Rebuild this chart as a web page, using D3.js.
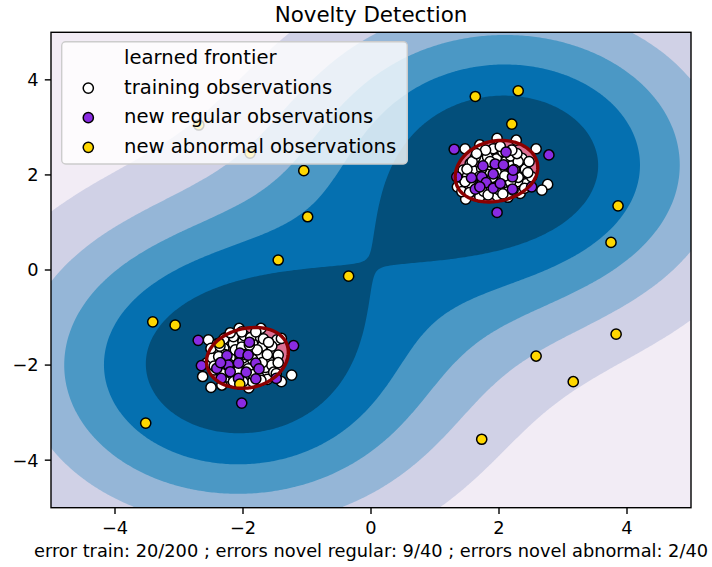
<!DOCTYPE html>
<html><head><meta charset="utf-8">
<script src="https://cdn.jsdelivr.net/npm/d3@7"></script>
<style>body{margin:0;background:#fff}svg{display:block}text{font-family:"DejaVu Sans",sans-serif;fill:#000}</style>
</head><body><svg id="chart" width="712" height="567"></svg>
<script>
// ---------------- data ----------------
const trainUpper = [
 [1.97,2.77],[2.27,2.73],[1.47,2.55],[1.70,2.63],[2.58,2.55],[2.38,2.24],[2.76,1.80],[2.67,1.68],[1.48,1.49],[2.14,1.53],
 [1.97,1.56],[1.35,1.75],[2.43,1.82],[1.70,2.42],[1.86,2.47],[2.28,2.42],[2.35,2.03],[1.44,2.10],[1.55,2.24],[1.70,1.54],
 [2.33,1.61],[1.42,1.65],[2.51,1.96],
 [1.60,2.08],[1.66,1.90],[1.76,2.30],[1.85,2.14],[1.96,2.34],[2.05,2.06],[2.11,2.29],[2.20,2.19],[2.29,1.86],[2.14,1.76],
 [2.01,1.68],[1.85,1.81],[1.76,1.66],[1.57,1.81],[2.41,2.12],[1.51,1.98],[1.63,2.37],[2.36,2.35],[2.00,1.91],[1.81,2.01],
 [2.25,2.01],[1.91,2.55],[2.06,2.49],[1.47,1.86],[2.45,2.05],[2.30,1.95],[1.82,2.38],[2.18,2.40],[1.93,2.22],[2.08,1.84],
 [1.73,2.13],[2.30,2.28],[1.68,1.75],[2.22,1.68],[1.88,1.70],[2.47,2.28],[1.58,2.28],[2.02,2.60],[1.79,2.52],[2.02,2.15],
 [1.90,1.95],[2.16,1.98],[1.70,1.97],[2.40,1.72],[1.54,1.63],[2.06,1.60],[1.83,1.58],[2.28,2.45],[1.50,2.12],[2.20,2.52],
 [1.65,2.45],[2.18,1.85],[1.96,2.05],[1.86,2.28],[2.24,2.11],[1.74,1.85],[2.09,1.98]
];
const trainLower = [
 [-2.54,-1.47],[-2.27,-1.42],[-2.06,-1.23],[-1.72,-1.23],[-1.79,-1.39],[-1.47,-1.47],[-1.40,-1.44],[-1.58,-1.74],[-1.45,-1.79],
 [-2.63,-2.24],[-2.50,-2.47],[-2.33,-2.42],[-1.91,-2.48],[-1.40,-2.35],[-1.24,-2.21],[-2.41,-1.75],[-1.63,-2.17],[-2.57,-1.96],
 [-2.30,-1.65],[-2.15,-1.55],[-2.00,-1.50],[-1.85,-1.55],[-1.70,-1.60],[-1.60,-1.90],[-1.75,-1.80],[-1.90,-1.70],[-2.05,-1.75],
 [-2.20,-1.85],[-2.35,-1.95],[-2.25,-2.10],[-2.10,-2.00],[-1.95,-1.95],[-1.80,-2.05],[-1.65,-2.05],[-1.75,-2.25],[-1.95,-2.20],
 [-2.10,-2.30],[-2.25,-2.25],[-2.45,-2.10],[-2.40,-1.55],[-1.55,-1.60],[-1.98,-1.38],[-1.62,-2.30],[-1.85,-2.35],[-2.00,-2.35],
 [-2.15,-1.40],[-1.88,-1.42],[-1.55,-2.00],[-2.48,-1.85],[-2.30,-1.45],[-1.68,-1.45],[-2.00,-1.85],[-1.85,-1.88],[-2.12,-1.68],
 [-2.28,-1.78],[-1.70,-1.95],[-1.92,-2.08],[-2.18,-2.18],[-2.33,-2.18],[-1.52,-2.15],[-2.50,-1.65],[-1.78,-1.68],[-2.02,-1.62],
 [-2.22,-1.98],[-1.62,-1.78],[-2.08,-2.12],[-1.90,-1.58],[-2.38,-1.82],[-1.72,-2.32],[-2.45,-2.02],[-1.45,-1.95],[-2.02,-1.30],
 [-1.80,-1.30],[-2.20,-1.32],[-1.48,-2.18],[-2.15,-2.35],[-1.60,-1.52],[-2.36,-1.60],[-1.96,-1.78],[-1.84,-2.20]
];
const regularUpper = [
 [1.30,2.54],[2.11,2.48],[2.78,2.42],[1.75,2.19],[1.94,2.23],[2.07,2.21],[1.34,1.96],[1.57,1.94],[1.73,1.96],[1.91,2.02],
 [2.21,1.96],[1.80,1.84],[1.63,1.70],[1.91,1.72],[2.21,1.70],[2.51,1.75],[1.97,1.21],[2.22,2.10],[1.70,1.75],[2.02,1.82]
];
const regularLower = [
 [-2.70,-1.48],[-1.21,-1.59],[-1.90,-1.52],[-2.25,-1.80],[-2.05,-1.75],[-1.92,-1.79],[-2.65,-2.01],[-2.41,-2.07],[-2.23,-2.00],[-2.07,-1.96],
 [-1.80,-1.96],[-2.20,-2.14],[-2.34,-2.28],[-2.07,-2.28],[-1.80,-2.29],[-1.48,-2.28],[-2.02,-2.80],[-1.75,-2.08],[-2.35,-1.95],[-1.95,-2.15]
];
const abnormal = [
 [1.63,3.65],[2.30,3.77],[2.20,3.07],[-2.69,3.05],[-1.89,2.46],[-1.05,2.09],[-0.99,1.12],[-1.45,0.21],[-0.35,-0.13],[-3.41,-1.09],
 [-3.06,-1.16],[-3.52,-3.22],[-2.05,-2.40],[-2.37,-1.54],[2.58,-1.81],[3.16,-2.35],[1.73,-3.56],[3.75,0.58],[3.86,1.35],[3.83,-1.35]
];
const xTicks = [-4,-2,0,2,4];
const yTicks = [-4,-2,0,2,4];
const domain = [-5,5];
const titleText = "Novelty Detection";
const xLabelText = "error train: 20/200 ; errors novel regular: 9/40 ; errors novel abnormal: 2/40";
const legendLabels = ["learned frontier","training observations","new regular observations","new abnormal observations"];
// model parameters (One-class SVM, rbf kernel)
const NU = 0.1, GAMMA = 0.1;

// ---------------- one-class SVM (SMO) ----------------
const X = trainUpper.concat(trainLower);
const l = X.length;
const kern = (a,b)=>Math.exp(-GAMMA*((a[0]-b[0])**2+(a[1]-b[1])**2));
const Q = X.map(a=>X.map(b=>kern(a,b)));
const alpha = new Float64Array(l);
const nn = Math.floor(NU*l+1e-9);
for(let i=0;i<nn;i++) alpha[i]=1;
if(nn<l) alpha[nn]=Math.max(0,NU*l-nn);
const G = new Float64Array(l);
for(let i=0;i<l;i++){let s=0;for(let j=0;j<l;j++) s+=Q[i][j]*alpha[j];G[i]=s;}
for(let iter=0;iter<200000;iter++){
  let Gmax=-Infinity,gi=-1;
  for(let t=0;t<l;t++) if(alpha[t]<1 && -G[t]>=Gmax){Gmax=-G[t];gi=t;}
  let Gmax2=-Infinity,gj=-1,objMin=Infinity;
  for(let t=0;t<l;t++) if(alpha[t]>0){
    if(G[t]>=Gmax2) Gmax2=G[t];
    const b=Gmax+G[t];
    if(b>0){let a=Q[gi][gi]+Q[t][t]-2*Q[gi][t]; if(a<=0)a=1e-12; const o=-(b*b)/a; if(o<=objMin){objMin=o;gj=t;}}
  }
  if(Gmax+Gmax2<1e-4||gj<0) break;
  const i=gi,j=gj;
  let quad=Q[i][i]+Q[j][j]-2*Q[i][j]; if(quad<=0) quad=1e-12;
  const delta=(G[i]-G[j])/quad, sum=alpha[i]+alpha[j];
  const oi=alpha[i], oj=alpha[j];
  let ai=oi-delta, aj=oj+delta;
  if(sum>1){ if(ai>1){ai=1;aj=sum-1;} } else { if(aj<0){aj=0;ai=sum;} }
  if(sum>1){ if(aj>1){aj=1;ai=sum-1;} } else { if(ai<0){ai=0;aj=sum;} }
  alpha[i]=ai;alpha[j]=aj;
  const di=ai-oi,dj=aj-oj;
  for(let k=0;k<l;k++) G[k]+=Q[i][k]*di+Q[j][k]*dj;
}
let ub=Infinity,lb=-Infinity,sf=0,nf=0;
for(let t=0;t<l;t++){
  if(alpha[t]>=1) lb=Math.max(lb,G[t]);
  else if(alpha[t]<=0) ub=Math.min(ub,G[t]);
  else {nf++;sf+=G[t];}
}
const rho = nf>0? sf/nf : (ub+lb)/2;
const sv = [];
for(let t=0;t<l;t++) if(alpha[t]>0) sv.push([X[t][0],X[t][1],alpha[t]]);
const decision=(x,y)=>{let s=0;for(const v of sv) s+=v[2]*Math.exp(-GAMMA*((x-v[0])**2+(y-v[1])**2));return s-rho;};

// ---------------- layout ----------------
const svg=d3.select("#chart");
const L=51,R=691,T=32.3,B=507.7;
const xScale=d3.scaleLinear().domain(domain).range([L,R]);
const yScale=d3.scaleLinear().domain(domain).range([B,T]);

// grid of the decision function
const n=320,m=240;
const Z=new Float64Array(n*m);
for(let j=0;j<m;j++){const y=domain[1]-(j+0.5)*(domain[1]-domain[0])/m;
  for(let i=0;i<n;i++){const x=domain[0]+(i+0.5)*(domain[1]-domain[0])/n; Z[j*n+i]=decision(x,y);}}
const zMin=d3.min(Z);
const levels=d3.range(7).map(k=>zMin+k*(0-zMin)/6);
const PuBu=d3.piecewise(d3.interpolateRgb,["#fff7fb","#ece7f2","#d0d1e6","#a6bddb","#74a9cf","#3690c0","#0570b0","#045a8d","#023858"]);
const proj=d3.geoTransform({point(x,y){this.stream.point(xScale(domain[0]+x*(domain[1]-domain[0])/n),yScale(domain[1]-y*(domain[1]-domain[0])/m));}});
const path=d3.geoPath(proj);
const contours=d3.contours().size([n,m]);

svg.append("defs").append("clipPath").attr("id","clip").append("rect")
  .attr("x",L).attr("y",T).attr("width",R-L).attr("height",B-T);
const plot=svg.append("g").attr("clip-path","url(#clip)");
plot.append("rect").attr("x",L).attr("y",T).attr("width",R-L).attr("height",B-T).attr("fill",PuBu(0.5/6));
for(let k=1;k<6;k++){
  const c=contours.thresholds([levels[k]])(Z)[0];
  plot.append("path").attr("d",path(c)).attr("fill",PuBu((k+0.5)/6));
}
const zero=contours.thresholds([0])(Z)[0];
plot.append("path").attr("d",path(zero)).attr("fill","#db7093");

function dots(data,color){
  plot.append("g").selectAll("circle").data(data).join("circle")
    .attr("cx",d=>xScale(d[0])).attr("cy",d=>yScale(d[1])).attr("r",5.1)
    .attr("fill",color).attr("stroke","#000").attr("stroke-width",1.5);
}
dots(X,"#ffffff");
dots(regularUpper.concat(regularLower),"#8a2be2");
dots(abnormal,"#ffd700");
plot.append("path").attr("d",path(zero)).attr("fill","none").attr("stroke","#8b0000").attr("stroke-width",3.4);

// axes frame
svg.append("rect").attr("x",L).attr("y",T).attr("width",R-L).attr("height",B-T)
  .attr("fill","none").attr("stroke","#000").attr("stroke-width",1.4);
const fmt=d=>d3.format("")(d);
const xa=svg.append("g");
xTicks.forEach(t=>{
  xa.append("line").attr("x1",xScale(t)).attr("x2",xScale(t)).attr("y1",B).attr("y2",B+6.2).attr("stroke","#000").attr("stroke-width",1.4);
  xa.append("text").attr("x",xScale(t)).attr("y",B+26).attr("text-anchor","middle").style("font-size","17.8px").text(fmt(t));
});
yTicks.forEach(t=>{
  xa.append("line").attr("x1",L-6.2).attr("x2",L).attr("y1",yScale(t)).attr("y2",yScale(t)).attr("stroke","#000").attr("stroke-width",1.4);
  xa.append("text").attr("x",L-12.4).attr("y",yScale(t)).attr("dy","0.36em").attr("text-anchor","end").style("font-size","17.8px").text(fmt(t));
});
svg.append("text").attr("x",(L+R)/2).attr("y",21.5).attr("text-anchor","middle").style("font-size","21.4px").text(titleText);
svg.append("text").attr("x",(L+R)/2).attr("y",557).attr("text-anchor","middle").style("font-size","17.8px").text(xLabelText);

// legend
const lg=svg.append("g");
lg.append("rect").attr("x",61.7).attr("y",41.7).attr("width",345.6).attr("height",122.3).attr("rx",4)
  .attr("fill","#ffffff").attr("fill-opacity",0.8).attr("stroke","#cccccc").attr("stroke-width",1.4);
const legColors=[null,"#ffffff","#8a2be2","#ffd700"];
legendLabels.forEach((lab,i)=>{
  const by=64+i*29.6;
  if(legColors[i]) lg.append("circle").attr("cx",88.3).attr("cy",by-5.5).attr("r",5.1)
    .attr("fill",legColors[i]).attr("stroke","#000").attr("stroke-width",1.5);
  lg.append("text").attr("x",124).attr("y",by).style("font-size","19.6px").text(lab);
});
</script></body></html>
